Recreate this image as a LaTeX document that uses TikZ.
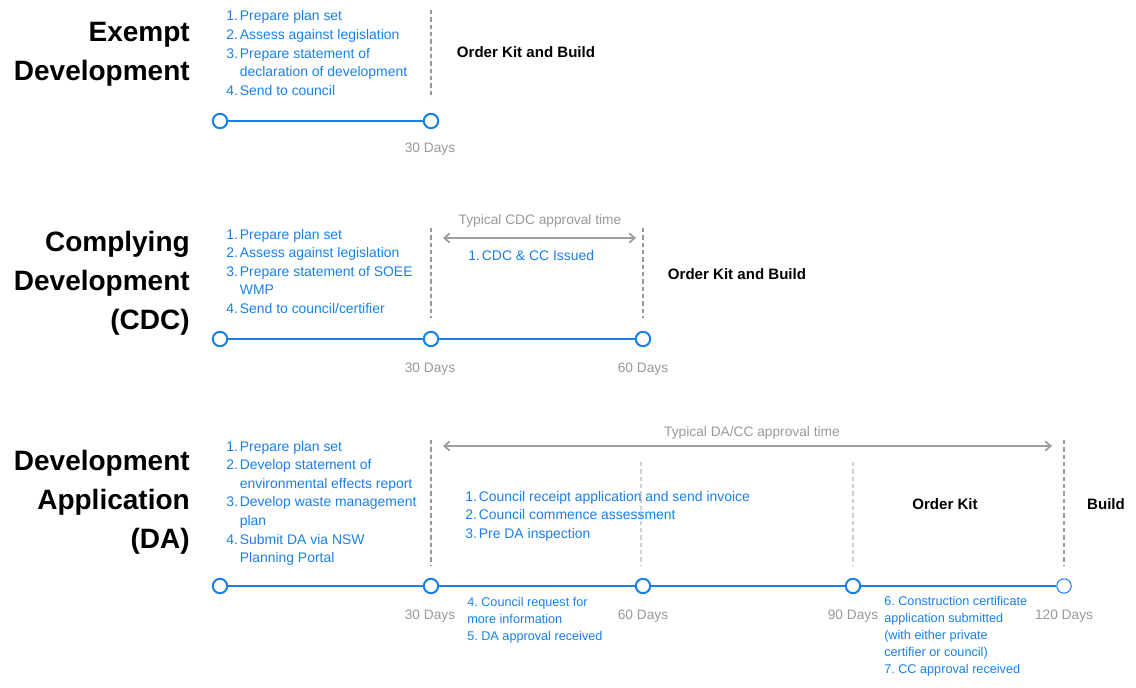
\documentclass[tikz,border=0pt]{standalone}
\usepackage{fontspec}
\setmainfont{Liberation Sans}
\usetikzlibrary{arrows.meta}
\definecolor{tlblue}{RGB}{26,128,232}
\definecolor{tlgray}{RGB}{153,153,153}
\definecolor{tllight}{RGB}{208,208,208}
\definecolor{tlarrow}{RGB}{158,158,158}
\frenchspacing
\tikzset{
  tl/.style={draw=tlblue, line width=1.5pt},
  dot/.style={circle, draw=tlblue, fill=white, line width=1.5pt, minimum size=10.8pt, inner sep=0pt},
  thindot/.style={dot, line width=0.8pt},
  vdash/.style={draw=tlgray, line width=1.5pt, dash pattern=on 3.2pt off 2.3pt},
  vlight/.style={draw=tllight, line width=1.5pt, dash pattern=on 3.2pt off 2.3pt},
  span/.style={draw=tlarrow, line width=1.3pt, {Straight Barb[length=4pt,width=7pt]}-{Straight Barb[length=4pt,width=7pt]}},
  title/.style={inner sep=0pt, anchor=base east, font=\fontsize{21}{29.25}\selectfont\bfseries},
  listtxt/.style={inner sep=0pt, anchor=base west, text=tlblue, font=\fontsize{10.45}{13.95}\selectfont},
  smalltxt/.style={inner sep=0pt, anchor=base west, text=tlblue, font=\fontsize{9.5}{12.75}\selectfont},
  days/.style={inner sep=0pt, anchor=base, text=tlgray, font=\fontsize{10.3}{12}\selectfont},
  phase/.style={inner sep=0pt, anchor=base, font=\fontsize{11.3}{13}\selectfont\bfseries},
}
\newcommand{\numlist}[1]{\begin{tabular}[t]{@{}r@{\hspace{1.5pt}}l@{}}#1\end{tabular}}
\newcommand{\plainlist}[1]{\begin{tabular}[t]{@{}l@{}}#1\end{tabular}}
\begin{document}
\begin{tikzpicture}[x=0.75pt, y=-0.75pt]
\useasboundingbox[fill=white] (0,0) rectangle (1136,688);

% ---------- Exempt Development ----------
\node[title] (t1) at (190,42) {\begin{tabular}[t]{@{}r@{}}Exempt\\Development\end{tabular}};
\node[listtxt] (l1) at (226,21) {\numlist{1.&Prepare plan set\\2.&Assess against legislation\\3.&Prepare statement of\\&declaration of development\\4.&Send to council}};
\coordinate (d1a) at (431,10);
\coordinate (d1b) at (431,98);
\draw[vdash] (d1a) -- (d1b);
\node[phase] (p1) at (526,58) {Order Kit and Build};
\node[dot] (e0) at (220,121) {};
\node[dot] (e1) at (431,121) {};
\draw[tl] (e0) -- (e1);
\node[days] (e1l) at (430,153) {30 Days};

% ---------- Complying Development ----------
\node[title] (t2) at (190,252) {\begin{tabular}[t]{@{}r@{}}Complying\\Development\\(CDC)\end{tabular}};
\node[listtxt] (l2) at (226,239) {\numlist{1.&Prepare plan set\\2.&Assess against legislation\\3.&Prepare statement of SOEE\\&WMP\\4.&Send to council/certifier}};
\coordinate (d2a) at (431,228);
\coordinate (d2b) at (431,318);
\coordinate (d3a) at (643,228);
\coordinate (d3b) at (643,318);
\draw[vdash] (d2a) -- (d2b);
\draw[vdash] (d3a) -- (d3b);
\node[days] (cdcspan) at (540,224) {Typical CDC approval time};
\coordinate (a1a) at (443,238);
\coordinate (a1b) at (636,238);
\draw[span] (a1a) -- (a1b);
\node[listtxt] (m2) at (468,261) {\numlist{1.&CDC \& CC Issued}};
\node[phase] (p2) at (737,279) {Order Kit and Build};
\node[dot] (c0) at (220,339) {};
\node[dot] (c1) at (431,339) {};
\node[dot] (c2) at (643,339) {};
\draw[tl] (c0) -- (c1);
\draw[tl] (c1) -- (c2);
\node[days] (c1l) at (430,372) {30 Days};
\node[days] (c2l) at (643,372) {60 Days};

% ---------- Development Application ----------
\node[title] (t3) at (190,470) {\begin{tabular}[t]{@{}r@{}}Development\\Application\\(DA)\end{tabular}};
\node[listtxt] (l3) at (226,451) {\numlist{1.&Prepare plan set\\2.&Develop statement of\\&environmental effects report\\3.&Develop waste management\\&plan\\4.&Submit DA via NSW\\&Planning Portal}};
\coordinate (d4a) at (431,440);
\coordinate (d4b) at (431,565);
\coordinate (d5a) at (641,462);
\coordinate (d5b) at (641,565);
\coordinate (d6a) at (853,462);
\coordinate (d6b) at (853,565);
\coordinate (d7a) at (1064,440);
\coordinate (d7b) at (1064,565);
\draw[vdash] (d4a) -- (d4b);
\draw[vlight] (d5a) -- (d5b);
\draw[vlight] (d6a) -- (d6b);
\draw[vdash] (d7a) -- (d7b);
\node[days] (daspan) at (752,436) {Typical DA/CC approval time};
\coordinate (a2a) at (443,446);
\coordinate (a2b) at (1052,446);
\draw[span] (a2a) -- (a2b);
\node[listtxt] (m3) at (465,501) {\numlist{1.&Council receipt application and send invoice\\2.&Council commence assessment\\3.&Pre DA inspection}};
\node[phase] (p3) at (945,509) {Order Kit};
\node[phase] (p4) at (1106,509) {Build};
\node[dot] (a0) at (220,586) {};
\node[dot] (a1) at (431,586) {};
\node[dot] (a2) at (643,586) {};
\node[dot] (a3) at (853,586) {};
\node[thindot] (a4) at (1064,586) {};
\draw[tl] (a0) -- (a1);
\draw[tl] (a1) -- (a2);
\draw[tl] (a2) -- (a3);
\draw[tl] (a3) -- (a4);
\node[days] (a1l) at (430,619) {30 Days};
\node[days] (a2l) at (643,619) {60 Days};
\node[days] (a3l) at (853,619) {90 Days};
\node[days] (a4l) at (1064,619) {120 Days};
\node[smalltxt] (b1) at (467,606) {\plainlist{4. Council request for\\more information\\5. DA approval received}};
\node[smalltxt] (b2) at (884,605) {\plainlist{6. Construction certificate\\application submitted\\(with either private\\certifier or council)\\7. CC approval received}};
\end{tikzpicture}
\end{document}
